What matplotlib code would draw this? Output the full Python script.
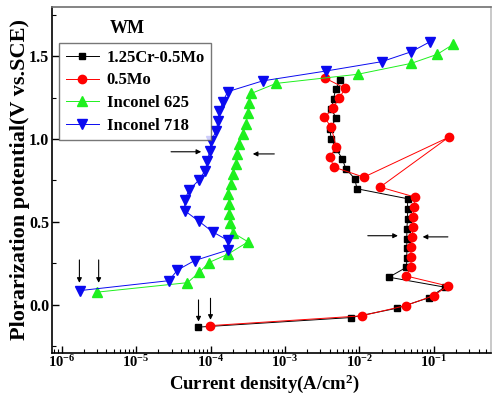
import matplotlib
matplotlib.use("Agg")
import matplotlib.pyplot as plt
from matplotlib.ticker import LogLocator, FixedLocator, NullFormatter

plt.rcParams['font.family'] = ['Liberation Serif', 'DejaVu Serif']
plt.rcParams['font.weight'] = 'bold'
plt.rcParams['mathtext.fontset'] = 'custom'
plt.rcParams['mathtext.rm'] = 'Liberation Serif:bold'
plt.rcParams['mathtext.bf'] = 'Liberation Serif:bold'
plt.rcParams['mathtext.default'] = 'bf'

# ---- data ----
cr_i = [6.8e-5, 7.8e-3, 3.2e-2, 8.7e-2, 1.41e-1, 2.5e-2, 4.3e-2, 4.35e-2, 4.35e-2, 4.35e-2,
        4.35e-2, 4.45e-2, 4.45e-2, 4.45e-2, 9.3e-3, 8.7e-3, 6.6e-3, 5.9e-3, 4.9e-3, 4.2e-3,
        4.0e-3, 4.9e-3, 4.2e-3, 4.5e-3, 4.8e-3, 5.5e-3]
cr_v = [-0.134, -0.076, -0.02, 0.044, 0.107, 0.167, 0.227, 0.28, 0.34, 0.40,
        0.46, 0.516, 0.576, 0.64, 0.70, 0.76, 0.82, 0.88, 0.94, 1.00,
        1.06, 1.125, 1.18, 1.24, 1.30, 1.355]

mo_i = [9.8e-5, 1.07e-2, 4.2e-2, 1.0e-1, 1.55e-1, 4.2e-2, 5.0e-2, 4.9e-2, 5.0e-2, 5.15e-2,
        5.25e-2, 5.25e-2, 5.4e-2, 5.6e-2, 1.9e-2, 1.58e-1, 1.15e-2, 4.6e-3, 4.0e-3, 4.9e-3,
        4.2e-3, 3.4e-3, 4.4e-3, 5.4e-3, 6.5e-3, 3.5e-3]
mo_v = [-0.125, -0.066, -0.004, 0.056, 0.114, 0.175, 0.23, 0.287, 0.35, 0.41,
        0.47, 0.53, 0.59, 0.65, 0.71, 1.01, 0.77, 0.83, 0.89, 0.95,
        1.07, 1.13, 1.185, 1.25, 1.305, 1.366]

in625_i = [3.0e-6, 4.9e-5, 7.1e-5, 9.5e-5, 1.7e-4, 3.2e-4, 2.0e-4, 1.82e-4, 1.78e-4, 1.78e-4,
           1.74e-4, 1.86e-4, 2.0e-4, 2.2e-4, 2.3e-4, 2.4e-4, 2.7e-4, 3.0e-4, 3.2e-4, 3.25e-4,
           3.55e-4, 7.6e-4, 9.5e-3, 5.0e-2, 1.11e-1, 1.82e-1]
in625_v = [0.077, 0.134, 0.197, 0.255, 0.305, 0.38, 0.435, 0.495, 0.55, 0.61,
           0.67, 0.73, 0.79, 0.85, 0.91, 0.97, 1.03, 1.09, 1.155, 1.215,
           1.275, 1.335, 1.39, 1.456, 1.51, 1.57]

in718_i = [1.74e-6, 2.75e-5, 3.6e-5, 6.1e-5, 1.7e-4, 1.7e-4, 1.07e-4, 6.9e-5, 4.5e-5, 4.5e-5,
           5.1e-5, 6.9e-5, 8.5e-5, 9.1e-5, 9.8e-5, 1.02e-4, 1.2e-4, 1.26e-4, 1.32e-4, 1.45e-4,
           1.7e-4, 5.0e-4, 3.6e-3, 2.0e-2, 5.0e-2, 8.9e-2]
in718_v = [0.086, 0.146, 0.21, 0.267, 0.33, 0.39, 0.44, 0.506, 0.568, 0.63,
           0.69, 0.75, 0.81, 0.87, 0.93, 0.99, 1.05, 1.11, 1.17, 1.22,
           1.285, 1.35, 1.41, 1.466, 1.526, 1.586]

labels = ['1.25Cr-0.5Mo', '0.5Mo', 'Inconel 625', 'Inconel 718']
ytick_vals = [0.0, 0.5, 1.0, 1.5]

# arrows: (x_start, y_start, x_end, y_end)
arrows = [
    (1.73e-6, 0.271, 1.73e-6, 0.133),
    (3.14e-6, 0.271, 3.14e-6, 0.133),
    (6.9e-5, 0.03, 6.9e-5, -0.10),
    (1.0e-4, 0.04, 1.0e-4, -0.09),
    (2.95e-5, 0.923, 7.5e-5, 0.923),
    (7.2e-4, 0.91, 3.7e-4, 0.91),
    (1.3e-2, 0.417, 3.3e-2, 0.417),
    (1.55e-1, 0.41, 7.1e-2, 0.41),
]

fig = plt.figure(figsize=(4.93, 3.94), dpi=100)
ax = fig.add_axes([0.1055, 0.104, 0.8905, 0.878])

ax.plot(cr_i, cr_v, '-', color='black', lw=0.7, marker='s', ms=5, mfc='black', mec='black', label=labels[0])
ax.plot(mo_i, mo_v, '-', color='red', lw=0.7, marker='o', ms=6, mfc='red', mec='red', label=labels[1])
ax.plot(in625_i, in625_v, '-', color='#1ef01e', lw=0.7, marker='^', ms=6.5, mfc='#1ef01e', mec='#1ef01e', label=labels[2])
ax.plot(in718_i, in718_v, '-', color='#0a0af0', lw=0.7, marker='v', ms=6.5, mfc='#0a0af0', mec='#0a0af0', label=labels[3])

for x0, y0, x1, y1 in arrows:
    ax.annotate('', xy=(x1, y1), xytext=(x0, y0),
                arrowprops=dict(arrowstyle='-|>', color='black', lw=0.8,
                                mutation_scale=7, shrinkA=0, shrinkB=0))

ax.set_xscale('log')
ax.set_xlim(10**-6.13, 10**-0.23)
ax.set_ylim(-0.29, 1.795)
ax.set_yticks(ytick_vals)
ax.set_yticklabels([f'{v:.1f}' for v in ytick_vals])
ax.yaxis.set_minor_locator(FixedLocator([-0.25, 0.25, 0.75, 1.25, 1.75]))
ax.xaxis.set_major_locator(LogLocator(base=10, numticks=20))
ax.xaxis.set_minor_locator(LogLocator(base=10, subs=range(2, 10), numticks=100))
ax.xaxis.set_minor_formatter(NullFormatter())

ax.tick_params(which='both', direction='in', top=False, right=False)
ax.tick_params(axis='y', labelsize=11.5, pad=2)
ax.tick_params(axis='x', labelsize=10.5, pad=1)
ax.tick_params(which='major', length=5, width=1)
ax.tick_params(which='minor', length=3, width=0.8)
for lab in ax.get_yticklabels() + ax.get_xticklabels():
    lab.set_fontweight('bold')

for s in ax.spines.values():
    s.set_linewidth(1.2)
ax.spines['top'].set_color('#707070')
ax.spines['right'].set_color('#c0c0c0')

ax.set_xlabel('Current density(A/cm$^2$)', fontsize=13.5, fontweight='bold')
ax.xaxis.set_label_coords(0.485, -0.056)
ax.set_ylabel('Plorarization potential(V vs.SCE)', fontsize=16, fontweight='bold')
ax.yaxis.set_label_coords(-0.05, 0.503)

ax.text(0.132, 0.925, 'WM', transform=ax.transAxes, fontsize=13, fontweight='bold')

leg = ax.legend(loc='upper left', bbox_to_anchor=(0.016, 0.896), frameon=True,
                fancybox=False, edgecolor='#555555', borderpad=0.4, labelspacing=0.4,
                handlelength=2.0, handletextpad=0.45, borderaxespad=0,
                prop={'weight': 'bold', 'size': 12})
leg.get_frame().set_linewidth(1.0)

fig.savefig('out.png', dpi=100)
